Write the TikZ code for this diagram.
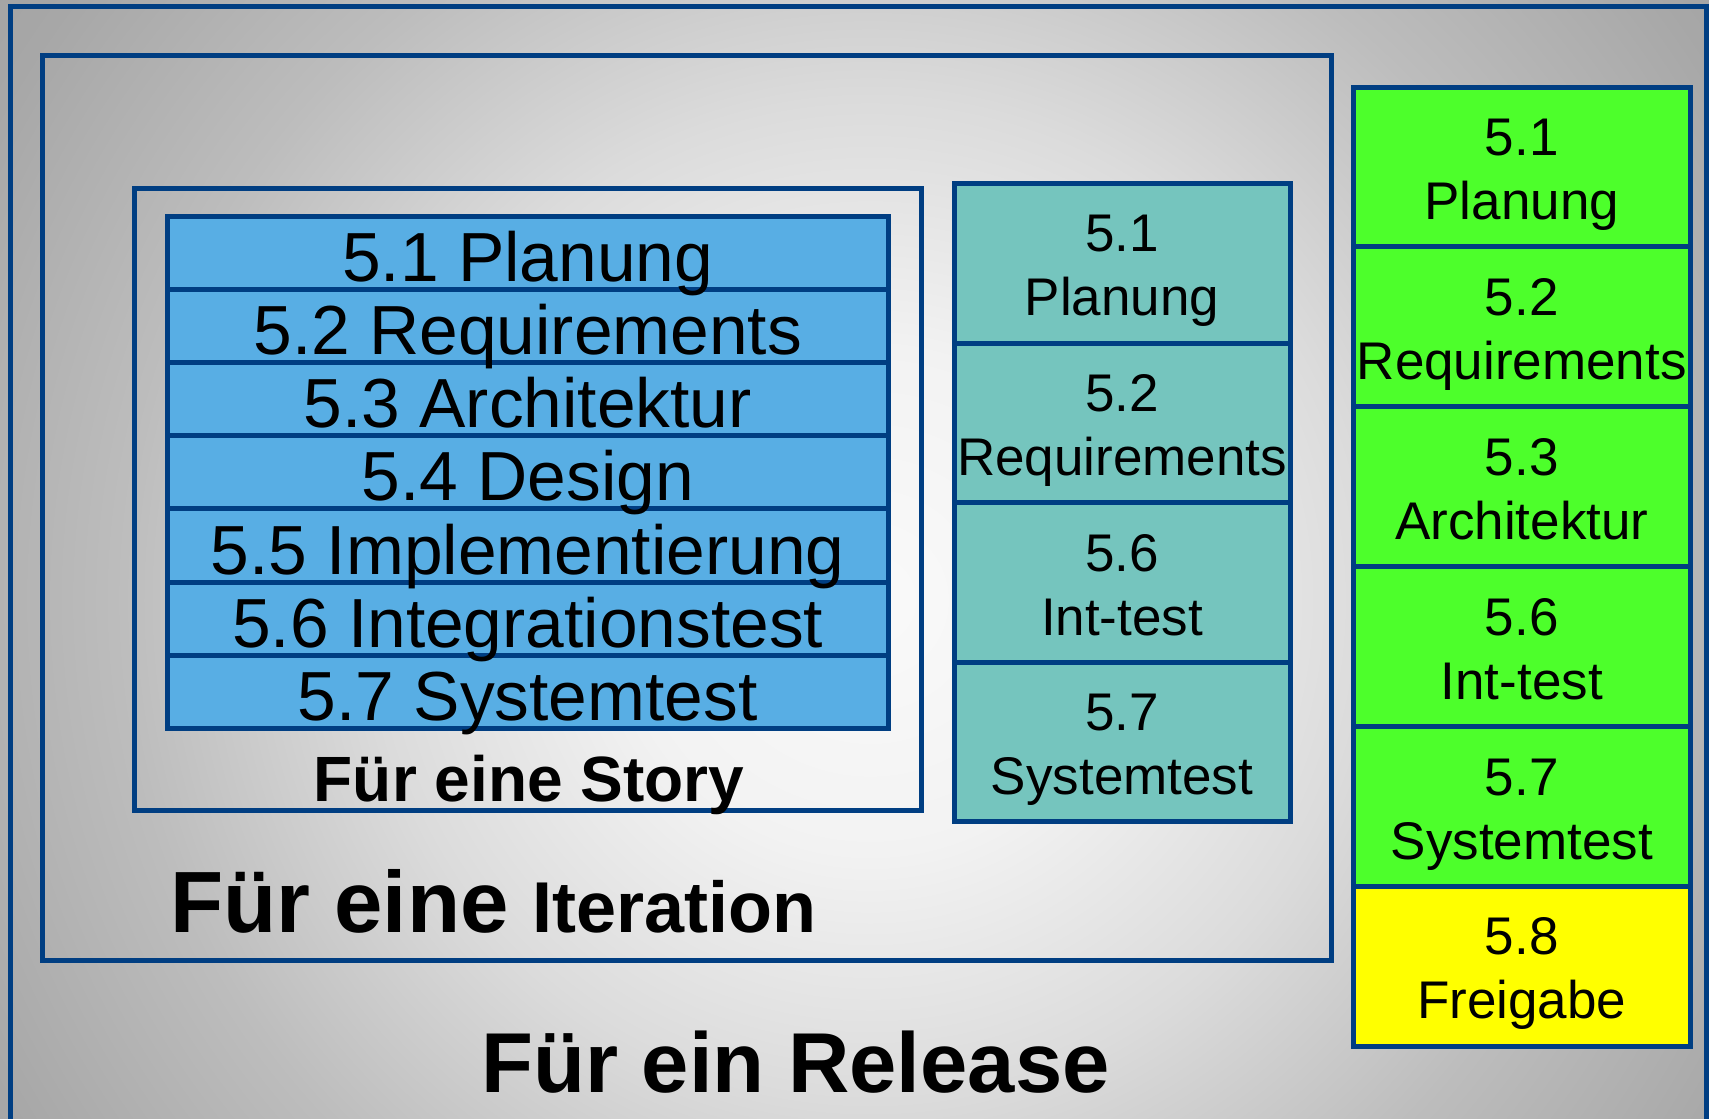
\documentclass[tikz,border=0pt]{standalone}
\usepackage{fontspec}
\setmainfont{Liberation Sans}

\definecolor{frameblue}{RGB}{0,62,130}
\definecolor{storyblue}{RGB}{88,174,228}
\definecolor{iterteal}{RGB}{117,197,190}
\definecolor{relgreen}{RGB}{77,255,43}
\definecolor{relyellow}{RGB}{255,255,0}
\definecolor{bgA}{gray}{0.98}
\definecolor{bgB}{gray}{0.95}
\definecolor{bgC}{gray}{0.86}
\definecolor{bgD}{gray}{0.74}
\definecolor{bgE}{gray}{0.655}
\definecolor{bgF}{gray}{0.62}

% light centre fading to grey towards the corners
\pgfdeclareradialshading{bgshade}{\pgfpoint{0bp}{0bp}}{%
  color(0bp)=(bgA); color(5.2bp)=(bgB); color(10.4bp)=(bgC);
  color(15.6bp)=(bgD); color(20.8bp)=(bgE); color(25bp)=(bgF); color(50bp)=(bgF)}

\begin{document}
\begin{tikzpicture}[x=1pt,y=-1pt,
  frame/.style={draw=frameblue,line width=5pt},
  cell/.style={frame,inner sep=0pt,outer sep=0pt,anchor=north west},
  storyrow/.style={cell,fill=storyblue,minimum width=721.5pt,minimum height=73.21pt,
    font=\fontsize{69.5}{80}\selectfont,text height=57.4pt,text depth=0pt},
  phase/.style={cell,align=center,font=\fontsize{53}{64}\selectfont,
    text height=105pt,text depth=0pt},
  iterrow/.style={phase,fill=iterteal,minimum width=336pt,minimum height=159.6pt},
  relrow/.style={phase,fill=relgreen,minimum width=336.5pt,minimum height=159.9pt},
  caption/.style={inner sep=0pt,anchor=base}
]
\useasboundingbox (0,0) rectangle (1709,1119);
\clip (0,0) rectangle (1709,1119);

% background
\shade[shading=bgshade] (-330,-600) rectangle (2070,1800);

% nested scopes: release, iteration, story
\draw[frame] (10,6) rectangle (1706,1140);
\draw[frame] (42,55) rectangle (1331,960);
\draw[frame] (134,188.5) rectangle (921,810);

% activities for one story (bottom row first, so descenders stay on top)
\node[storyrow] (s7) at (167,655.29) {5.7 Systemtest};
\node[storyrow] (s6) at (167,582.07) {5.6 Integrationstest};
\node[storyrow] (s5) at (167,508.86) {5.5 Implementierung};
\node[storyrow] (s4) at (167,435.64) {5.4 Design};
\node[storyrow] (s3) at (167,362.43) {5.3 Architektur};
\node[storyrow] (s2) at (167,289.21) {5.2 Requirements};
\node[storyrow] (s1) at (167,216)    {5.1 Planung};

% activities for one iteration
\node[iterrow] (i1) at (954,183.5) {5.1\\Planung};
\node[iterrow] (i2) at (954,343.1) {5.2\\Requirements};
\node[iterrow] (i3) at (954,502.7) {5.6\\Int-test};
\node[iterrow] (i4) at (954,662.3) {5.7\\Systemtest};

% activities for one release
\node[relrow] (r1) at (1353.5,87)    {5.1\\Planung};
\node[relrow] (r2) at (1353.5,246.9) {5.2\\Requirements};
\node[relrow] (r3) at (1353.5,406.8) {5.3\\Architektur};
\node[relrow] (r4) at (1353.5,566.7) {5.6\\Int-test};
\node[relrow] (r5) at (1353.5,726.6) {5.7\\Systemtest};
\node[relrow,fill=relyellow] (r6) at (1353.5,886.5) {5.8\\Freigabe};

% scope captions
\node[caption,font=\bfseries\fontsize{64}{70}\selectfont] (storylbl) at (529,801) {Für eine Story};
\node[caption,anchor=base west,font=\bfseries] (iterlbl) at (170,932.5)
  {\fontsize{87}{90}\selectfont Für eine \fontsize{72}{80}\selectfont Iteration};
\node[caption,font=\bfseries\fontsize{85}{90}\selectfont] (rellbl) at (795.5,1092) {Für ein Release};
\end{tikzpicture}
\end{document}
